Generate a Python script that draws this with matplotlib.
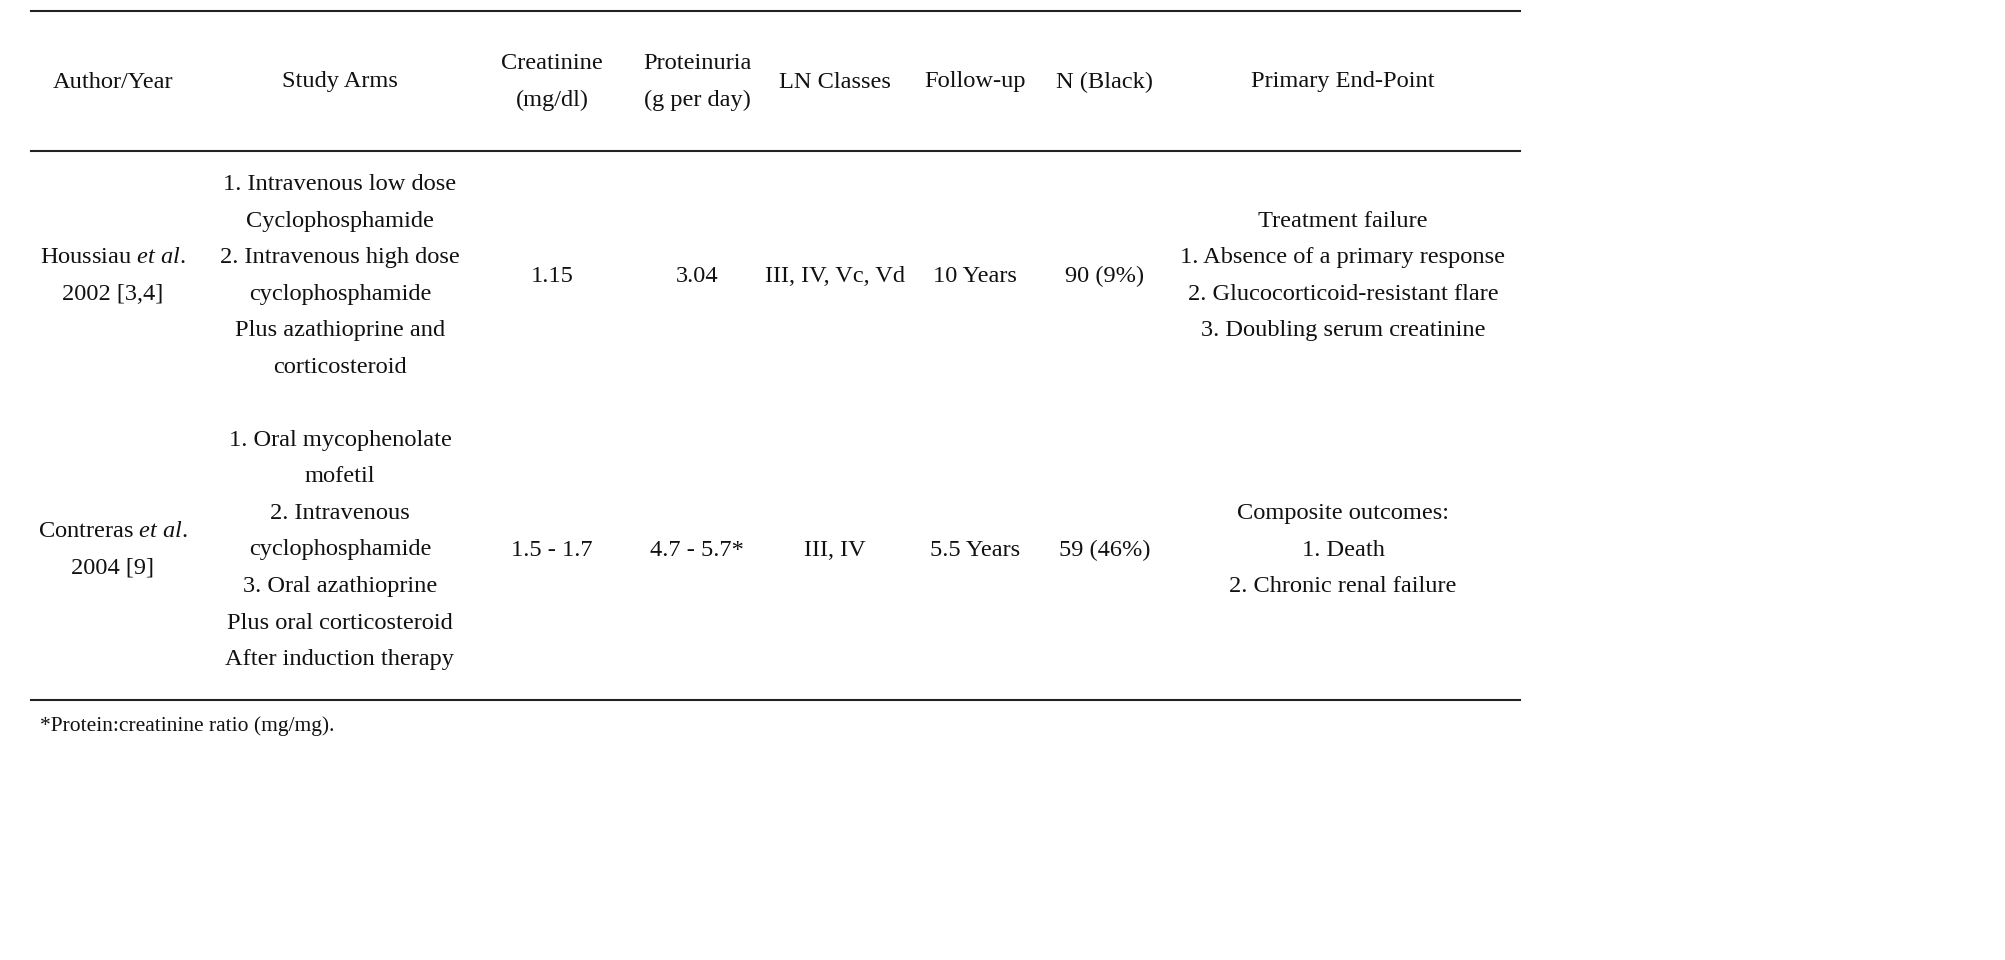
import matplotlib
matplotlib.use("Agg")
import matplotlib.pyplot as plt

plt.rcParams['mathtext.fontset'] = 'custom'
plt.rcParams['mathtext.rm'] = 'Liberation Serif'
plt.rcParams['mathtext.it'] = 'Liberation Serif:italic'
FONT = 'Liberation Serif'

headers = [["Author/Year"], ["Study Arms"], ["Creatinine", "(mg/dl)"], ["Proteinuria", "(g per day)"],
           ["LN Classes"], ["Follow-up"], ["N (Black)"], ["Primary End-Point"]]
row1 = [["Houssiau $\\mathit{et\\ al}$.", "2002 [3,4]"],
        ["1. Intravenous low dose", "Cyclophosphamide", "2. Intravenous high dose",
         "cyclophosphamide", "Plus azathioprine and", "corticosteroid"],
        ["1.15"], ["3.04"], ["III, IV, Vc, Vd"], ["10 Years"], ["90 (9%)"],
        ["Treatment failure", "1. Absence of a primary response", "2. Glucocorticoid-resistant flare",
         "3. Doubling serum creatinine"]]
row2 = [["Contreras $\\mathit{et\\ al}$.", "2004 [9]"],
        ["1. Oral mycophenolate", "mofetil", "2. Intravenous", "cyclophosphamide",
         "3. Oral azathioprine", "Plus oral corticosteroid", "After induction therapy"],
        ["1.5 - 1.7"], ["4.7 - 5.7*"], ["III, IV"], ["5.5 Years"], ["59 (46%)"],
        ["Composite outcomes:", "1. Death", "2. Chronic renal failure"]]
footnote = "*Protein:creatinine ratio (mg/mg)."

col_x = [113, 340, 552, 697, 835, 975, 1105, 1343]
W, H = 2005, 960
fig = plt.figure(figsize=(W/100, H/100), dpi=100)
ax = fig.add_axes([0, 0, 1, 1])
ax.set_xlim(0, W); ax.set_ylim(H, 0); ax.axis('off')

for y in (11, 151, 700):
    ax.plot([31, 1520], [y, y], color='#222222', lw=1.5)

LS = 36.6
def draw_cell(x, cy, lines):
    n = len(lines)
    for i, t in enumerate(lines):
        y = cy + (i - (n - 1) / 2) * LS
        ax.text(x, y, t, ha='center', va='center', fontsize=17.6, family=FONT, color='#111111')

for x, c in zip(col_x, headers):
    draw_cell(x, 82, c)
for x, c in zip(col_x, row1):
    draw_cell(x, 276, c)
for x, c in zip(col_x, row2):
    draw_cell(x, 550, c)

ax.text(40, 726, footnote, ha='left', va='center', fontsize=15.5, family=FONT, color='#111111')
fig.savefig("out.png", dpi=100, facecolor='white')
